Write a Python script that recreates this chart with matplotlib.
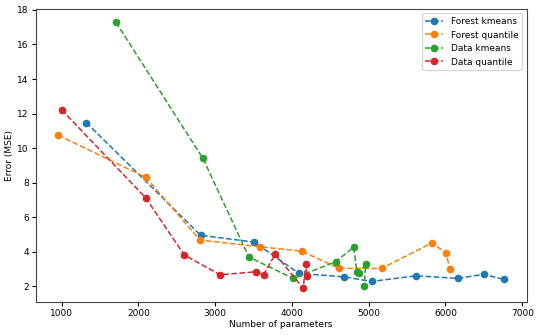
import matplotlib
matplotlib.use("Agg")
import matplotlib.pyplot as plt

fk_x = [1320, 2810, 3509, 4091, 4681, 5038, 5615, 6158, 6497, 6765]
fk_y = [11.48, 4.95, 4.55, 2.74, 2.54, 2.27, 2.60, 2.45, 2.68, 2.39]

fq_x = [952, 2098, 2801, 3583, 4126, 4616, 5168, 5827, 6010, 6058]
fq_y = [10.75, 8.30, 4.67, 4.28, 4.03, 3.03, 3.03, 4.51, 3.90, 2.97]

dk_x = [1707, 2841, 3440, 4017, 4569, 4804, 4847, 4873, 4960, 4942]
dk_y = [17.29, 9.40, 3.68, 2.45, 3.41, 4.26, 2.81, 2.79, 3.26, 2.00]

dq_x = [1000, 2098, 2597, 3062, 3531, 3631, 3783, 4148, 4178, 4199]
dq_y = [12.22, 7.10, 3.81, 2.66, 2.83, 2.66, 3.86, 1.87, 3.26, 2.60]

labels = ["Forest kmeans", "Forest quantile", "Data kmeans", "Data quantile"]

plt.rcParams['font.size'] = 6.5
fig = plt.figure(figsize=(5.4, 3.35), dpi=100)
ax = fig.add_axes([0.066, 0.0994, 0.909, 0.874])

for xs, ys, lab in [(fk_x, fk_y, labels[0]), (fq_x, fq_y, labels[1]),
                    (dk_x, dk_y, labels[2]), (dq_x, dq_y, labels[3])]:
    ax.plot(xs, ys, '--o', label=lab, markersize=4.5, linewidth=1.1)

for s in ax.spines.values():
    s.set_color('#444444')
ax.set_xlabel("Number of parameters", labelpad=2)
ax.set_ylabel("Error (MSE)", labelpad=2)
ax.tick_params(labelsize=6.5, length=3, pad=2)
ax.set_yticks([2, 4, 6, 8, 10, 12, 14, 16, 18])
ax.legend(loc='upper right', fontsize=6.5)
fig.savefig("out.png", dpi=100)
